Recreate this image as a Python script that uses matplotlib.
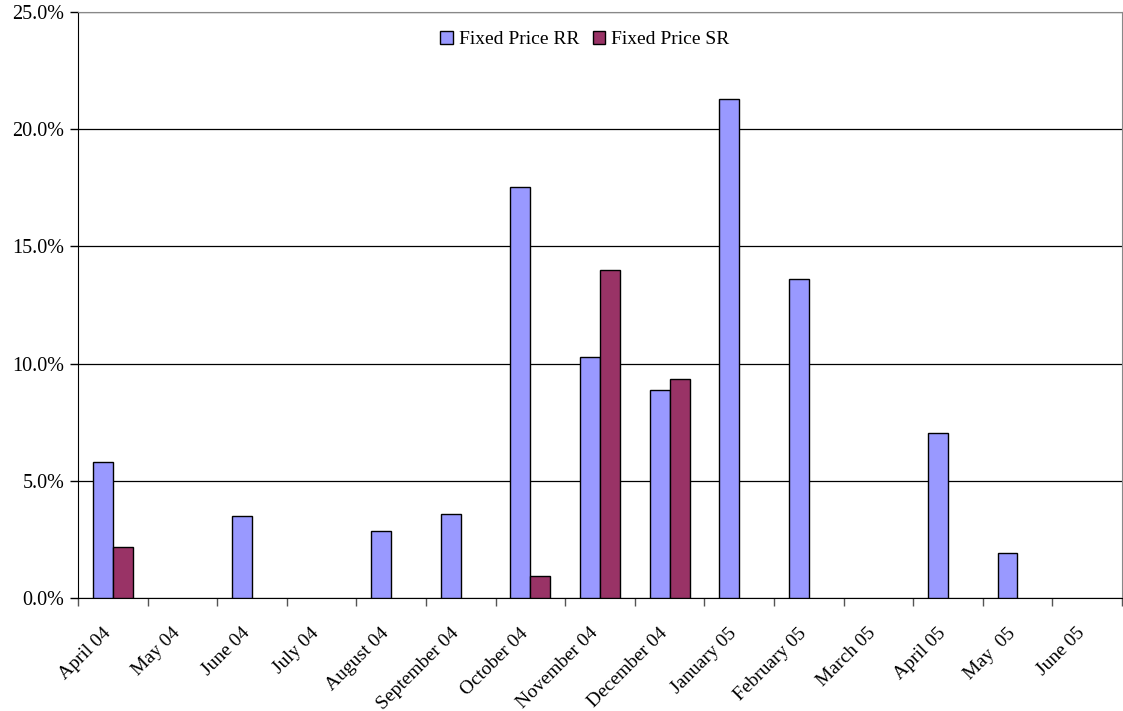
import matplotlib as mpl
import matplotlib.pyplot as plt
import matplotlib.transforms as mtransforms
import numpy as np

# Data (percent)
months = ['April 04', 'May 04', 'June 04', 'July 04', 'August 04', 'September 04',
          'October 04', 'November 04', 'December 04', 'January 05', 'February 05',
          'March 05', 'April 05', 'May  05', 'June 05']
fixed_rr = [5.8, 0, 3.5, 0, 2.85, 3.58, 17.55, 10.27, 8.86, 21.3, 13.6, 0, 7.03, 1.92, 0]
fixed_sr = [2.17, 0, 0, 0, 0, 0, 0.94, 13.98, 9.33, 0, 0, 0, 0, 0, 0]

plt.rcParams['font.family'] = ['Liberation Serif', 'DejaVu Serif']
plt.rcParams['font.size'] = 14.5

fig = plt.figure(figsize=(11.23, 7.11), dpi=100)
ax = fig.add_axes([0.0695, 0.159, 0.9295, 0.824])

x = np.arange(len(months))
w = 0.287
rr_vals = np.array(fixed_rr)
sr_vals = np.array(fixed_sr)
# Skip zero bars so no empty outlines are drawn
m_rr = rr_vals > 0
m_sr = sr_vals > 0
ax.bar(x[m_rr] - w / 2, rr_vals[m_rr], width=w, color='#9999FF', edgecolor='black',
       linewidth=1, label='Fixed Price RR', zorder=3)
ax.bar(x[m_sr] + w / 2, sr_vals[m_sr], width=w, color='#993366', edgecolor='black',
       linewidth=1, label='Fixed Price SR', zorder=3)

ax.set_xlim(-0.5, len(months) - 0.5)
ax.set_ylim(0, 25)
ax.yaxis.set_major_locator(mpl.ticker.MultipleLocator(5))
ax.yaxis.set_major_formatter(mpl.ticker.FuncFormatter(lambda v, p: f'{v:.1f}%'))
ax.yaxis.grid(True, color='black', linewidth=0.9, zorder=0)

# x ticks at category boundaries, labels at centers
ax.set_xticks(np.arange(len(months) + 1) - 0.5)
ax.set_xticklabels([])
ax.set_xticks(x, minor=True)
ax.set_xticklabels(months, minor=True, rotation=45, ha='right', rotation_mode='anchor',
                   fontsize=14)
ax.tick_params(axis='x', which='minor', length=0, pad=12)
ax.tick_params(axis='x', which='major', length=6, width=1, direction='out', color='#555555')
ax.tick_params(axis='y', length=6, width=1, direction='out', pad=4)

# nudge rotated labels left/down like the original
shift = mtransforms.ScaledTranslation(-11 / 100, -10 / 100, fig.dpi_scale_trans)
for lbl in ax.get_xticklabels(minor=True):
    lbl.set_transform(lbl.get_transform() + shift)

ax.spines['left'].set_color('black')
ax.spines['bottom'].set_color('black')
ax.spines['top'].set_color('#888888')
ax.spines['right'].set_color('#888888')

leg = ax.legend(loc='upper center', bbox_to_anchor=(0.4856, 0.998), ncol=2, frameon=False,
                handlelength=0.65, handleheight=0.65, handletextpad=0.3, columnspacing=0.7,
                fontsize=14)

plt.savefig('out.png', dpi=100)
